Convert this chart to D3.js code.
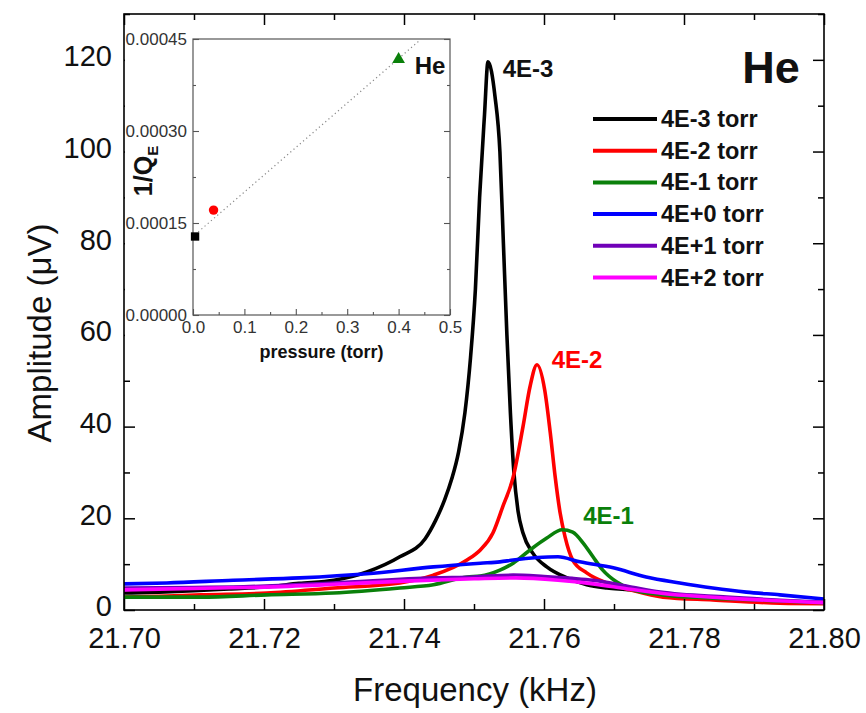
<!DOCTYPE html>
<html>
<head>
<meta charset="utf-8">
<script src="https://cdn.jsdelivr.net/npm/d3@7/dist/d3.min.js"></script>
<style>
  html, body { margin: 0; padding: 0; background: #fff; }
  svg { display: block; font-family: "Liberation Sans", Arial, sans-serif; }
</style>
</head>
<body>
<svg id="chart" width="866" height="713"></svg>
<script>
// Resonance amplitude vs. drive frequency for He at several pressures
const seriesNames = ["4E-3 torr", "4E-2 torr", "4E-1 torr", "4E+0 torr", "4E+1 torr", "4E+2 torr"];
const seriesColors = ["#000000", "#ff0000", "#0a800a", "#0000ff", "#7000b8", "#ff00ff"];

// [frequency (kHz), amplitude (µV)]
const amp4Em3 = [[21.700,3.7],[21.705,3.9],[21.710,4.2],[21.715,4.6],[21.720,5.0],[21.725,5.8],[21.730,6.5],[21.7347,8.3],[21.7394,11.6],[21.7430,15.5],[21.7445,19.5],[21.7458,24],[21.7468,28.5],[21.7478,34.5],[21.7487,43],[21.7495,55],[21.7502,70],[21.7508,90],[21.7515,108],[21.7520,119.6],[21.7530,112],[21.7537,100],[21.7542,80],[21.7547,60],[21.7552,43],[21.7557,30],[21.7563,21.5],[21.7570,16.8],[21.7584,12.4],[21.7604,9.4],[21.7633,7.0],[21.7661,5.5],[21.7690,4.8],[21.7723,4.4],[21.7766,3.3],[21.7841,2.6],[21.7937,1.7],[21.800,1.5]];
const amp4Em2 = [[21.700,2.8],[21.705,3.0],[21.711,3.3],[21.7204,3.7],[21.730,4.8],[21.7394,5.9],[21.7442,7.6],[21.7490,10.9],[21.7509,13.1],[21.7527,16.8],[21.7541,22.5],[21.7556,29],[21.7570,40],[21.7580,48.7],[21.7590,53.5],[21.7601,48],[21.7609,38.6],[21.7616,29],[21.7623,21.2],[21.7630,16],[21.7641,10.9],[21.7661,8.1],[21.7690,5.9],[21.7723,4.4],[21.7770,2.8],[21.7841,2.2],[21.7937,1.5],[21.800,1.4]];
const amp4Em1 = [[21.700,2.8],[21.7109,2.8],[21.7204,3.3],[21.7299,3.7],[21.7394,4.8],[21.7442,5.5],[21.7490,7.2],[21.7509,7.4],[21.7537,8.7],[21.7556,10.2],[21.7580,13.1],[21.7604,15.7],[21.7626,17.5],[21.7641,17],[21.7656,14.6],[21.7670,11.6],[21.7684,8.7],[21.7704,6.1],[21.7727,4.4],[21.7770,3.3],[21.7841,2.6],[21.7937,2.0],[21.800,1.6]];
const amp4Ep0 = [[21.700,5.7],[21.7061,5.9],[21.7156,6.5],[21.7251,7.0],[21.7347,7.9],[21.7442,9.4],[21.7509,10.2],[21.7537,10.5],[21.7556,10.9],[21.7620,11.6],[21.7651,10.5],[21.7699,9.2],[21.7746,7.2],[21.7794,5.9],[21.7841,4.8],[21.7889,3.9],[21.7937,3.3],[21.800,2.4]];
const amp4Ep1 = [[21.700,4.8],[21.710,4.9],[21.7156,5.0],[21.7299,5.9],[21.7442,7.0],[21.750,7.2],[21.7556,7.6],[21.760,7.3],[21.764,6.9],[21.767,6.5],[21.7719,5.2],[21.7766,3.9],[21.7861,2.8],[21.800,1.7]];
const amp4Ep2 = [[21.700,4.4],[21.710,4.7],[21.720,5.0],[21.730,5.6],[21.740,6.3],[21.750,6.8],[21.756,7.0],[21.762,6.5],[21.767,5.7],[21.772,4.6],[21.777,3.6],[21.786,2.6],[21.800,1.6]];
const allSeries = [amp4Em3, amp4Em2, amp4Em1, amp4Ep0, amp4Ep1, amp4Ep2];

// Peak annotations: [label, frequency, amplitude of the text baseline, colour index]
const peakLabels = [["4E-3", 21.7541, 116.3, 0], ["4E-2", 21.7611, 52.8, 1], ["4E-1", 21.7656, 18.8, 2]];

const xTicks = [21.70, 21.72, 21.74, 21.76, 21.78, 21.80];
const xMinorTicks = [21.71, 21.73, 21.75, 21.77, 21.79];
const yTicks = [0, 20, 40, 60, 80, 100, 120];
const yMinorTicks = [10, 30, 50, 70, 90, 110, 130];

// Inset: damping 1/Q_E vs pressure
const insetPressure = [0.004, 0.04, 0.4];
const insetInvQ = [0.000128, 0.000171, 0.000417];
const insetFit = [[0.004, 0.000131], [0.44, 0.000447]];
const insetXTicks = [0, 0.1, 0.2, 0.3, 0.4, 0.5];
const insetXMinor = [0.05, 0.15, 0.25, 0.35, 0.45];
const insetYTicks = [0, 0.00015, 0.0003, 0.00045];
const insetYMinor = [0.000075, 0.000225, 0.000375];

const svg = d3.select("#chart");

// ---------- main plot ----------
const L = 124, R = 824, T = 14, B = 610;
const x = d3.scaleLinear().domain([21.70, 21.80]).range([L, R]);
const y = d3.scaleLinear().domain([0, 130]).range([B, T]);

const line = d3.line()
  .x(d => x(d[0]))
  .y(d => y(d[1]))
  .curve(d3.curveMonotoneX);

const curves = svg.append("g");
allSeries.forEach((s, i) => {
  curves.append("path")
    .attr("d", line(s))
    .attr("fill", "none")
    .attr("stroke", seriesColors[i])
    .attr("stroke-width", 3.6)
    .attr("stroke-linejoin", "round");
});

function styleAxis(g, size) {
  g.select(".domain").remove();
  g.selectAll(".tick line").attr("stroke", "#000").attr("stroke-width", 1.5);
  g.selectAll("text").attr("fill", "#111").attr("font-size", size);
}

// bottom / top
svg.append("g").attr("transform", `translate(0,${B})`)
  .call(d3.axisBottom(x).tickValues(xTicks).tickSizeInner(-11).tickSizeOuter(0).tickPadding(17).tickFormat(d3.format(".2f")))
  .call(g => styleAxis(g, 29));
svg.append("g").attr("transform", `translate(0,${B})`)
  .call(d3.axisBottom(x).tickValues(xMinorTicks).tickSizeInner(-6).tickSizeOuter(0).tickFormat(""))
  .call(g => styleAxis(g, 0));
svg.append("g").attr("transform", `translate(0,${T})`)
  .call(d3.axisTop(x).tickValues(xTicks).tickSizeInner(-11).tickSizeOuter(0).tickFormat(""))
  .call(g => styleAxis(g, 0));
svg.append("g").attr("transform", `translate(0,${T})`)
  .call(d3.axisTop(x).tickValues(xMinorTicks).tickSizeInner(-6).tickSizeOuter(0).tickFormat(""))
  .call(g => styleAxis(g, 0));

// left / right
svg.append("g").attr("transform", `translate(${L},0)`)
  .call(d3.axisLeft(y).tickValues(yTicks).tickSizeInner(-11).tickSizeOuter(0).tickPadding(12))
  .call(g => styleAxis(g, 29))
  .call(g => g.selectAll("text").attr("dy", "0.2em"));
svg.append("g").attr("transform", `translate(${L},0)`)
  .call(d3.axisLeft(y).tickValues(yMinorTicks).tickSizeInner(-6).tickSizeOuter(0).tickFormat(""))
  .call(g => styleAxis(g, 0));
svg.append("g").attr("transform", `translate(${R},0)`)
  .call(d3.axisRight(y).tickValues(yTicks).tickSizeInner(-11).tickSizeOuter(0).tickFormat(""))
  .call(g => styleAxis(g, 0));
svg.append("g").attr("transform", `translate(${R},0)`)
  .call(d3.axisRight(y).tickValues(yMinorTicks).tickSizeInner(-6).tickSizeOuter(0).tickFormat(""))
  .call(g => styleAxis(g, 0));

// axis titles
svg.append("text")
  .attr("x", (L + R) / 2 + 1).attr("y", 701)
  .attr("text-anchor", "middle").attr("font-size", 33).attr("fill", "#111")
  .text("Frequency (kHz)");
svg.append("text")
  .attr("transform", `translate(51,${(T + B) / 2 + 21}) rotate(-90)`)
  .attr("text-anchor", "middle").attr("font-size", 33).attr("fill", "#111")
  .text("Amplitude (μV)");

// peak labels
peakLabels.forEach(([txt, f, a, ci]) => {
  svg.append("text")
    .attr("x", x(f)).attr("y", y(a))
    .attr("font-size", 24).attr("font-weight", "bold")
    .attr("fill", ci === 0 ? "#111" : seriesColors[ci])
    .text(txt);
});

// gas label
svg.append("text")
  .attr("x", 771).attr("y", 83).attr("text-anchor", "middle")
  .attr("font-size", 45).attr("font-weight", "bold").attr("fill", "#111")
  .text("He");

// legend
const legend = svg.append("g");
seriesNames.forEach((name, i) => {
  const ly = 119 + i * 31.7;
  legend.append("line")
    .attr("x1", 593).attr("x2", 657).attr("y1", ly).attr("y2", ly)
    .attr("stroke", seriesColors[i]).attr("stroke-width", 4);
  legend.append("text")
    .attr("x", 661).attr("y", ly + 8)
    .attr("font-size", 23.5).attr("font-weight", "bold").attr("fill", "#111")
    .text(name);
});

// frame
svg.append("rect")
  .attr("x", L).attr("y", T).attr("width", R - L).attr("height", B - T)
  .attr("fill", "none").attr("stroke", "#000").attr("stroke-width", 1.6);

// ---------- inset ----------
const iL = 193, iR = 450, iT = 39, iB = 315;
svg.append("rect")
  .attr("x", L + 1).attr("y", 27).attr("width", 340).attr("height", 340)
  .attr("fill", "#fff");

const ix = d3.scaleLinear().domain([0, 0.5]).range([iL, iR]);
const iy = d3.scaleLinear().domain([0, 0.00045]).range([iB, iT]);

function styleInset(g) {
  g.select(".domain").remove();
  g.selectAll(".tick line").attr("stroke", "#555").attr("stroke-width", 1.1);
  g.selectAll("text").attr("fill", "#333").attr("font-size", 17);
}

svg.append("g").attr("transform", `translate(0,${iB})`)
  .call(d3.axisBottom(ix).tickValues(insetXTicks).tickSizeInner(-6).tickSizeOuter(0).tickPadding(6).tickFormat(d3.format(".1f")))
  .call(styleInset);
svg.append("g").attr("transform", `translate(0,${iB})`)
  .call(d3.axisBottom(ix).tickValues(insetXMinor).tickSizeInner(-3).tickSizeOuter(0).tickFormat(""))
  .call(styleInset);
svg.append("g").attr("transform", `translate(${iL},0)`)
  .call(d3.axisLeft(iy).tickValues(insetYTicks).tickSizeInner(-6).tickSizeOuter(0).tickPadding(6).tickFormat(d3.format(".5f")))
  .call(styleInset);
svg.append("g").attr("transform", `translate(${iL},0)`)
  .call(d3.axisLeft(iy).tickValues(insetYMinor).tickSizeInner(-3).tickSizeOuter(0).tickFormat(""))
  .call(styleInset);
svg.append("g").attr("transform", `translate(${iR},0)`)
  .call(d3.axisRight(iy).tickValues(insetYTicks).tickSizeInner(-6).tickSizeOuter(0).tickFormat(""))
  .call(styleInset);
svg.append("g").attr("transform", `translate(${iR},0)`)
  .call(d3.axisRight(iy).tickValues(insetYMinor).tickSizeInner(-3).tickSizeOuter(0).tickFormat(""))
  .call(styleInset);

svg.append("rect")
  .attr("x", iL).attr("y", iT).attr("width", iR - iL).attr("height", iB - iT)
  .attr("fill", "none").attr("stroke", "#555").attr("stroke-width", 1.2);

// linear fit
svg.append("path")
  .attr("d", d3.line().x(d => ix(d[0])).y(d => iy(d[1]))(insetFit))
  .attr("fill", "none").attr("stroke", "#888").attr("stroke-width", 1.2)
  .attr("stroke-dasharray", "1.2,3");

// markers
const symbols = [d3.symbolSquare, d3.symbolCircle, d3.symbolTriangle];
insetPressure.forEach((p, i) => {
  svg.append("path")
    .attr("transform", `translate(${ix(p)},${iy(insetInvQ[i])})`)
    .attr("d", d3.symbol().type(symbols[i]).size(70)())
    .attr("fill", seriesColors[i]);
});

svg.append("text")
  .attr("x", 430).attr("y", 74).attr("text-anchor", "middle")
  .attr("font-size", 24).attr("font-weight", "bold").attr("fill", "#111")
  .text("He");

svg.append("text")
  .attr("x", (iL + iR) / 2).attr("y", 358).attr("text-anchor", "middle")
  .attr("font-size", 18).attr("font-weight", "bold").attr("fill", "#111")
  .text("pressure (torr)");

const qLabel = svg.append("text")
  .attr("transform", `translate(152,${(iT + iB) / 2 - 6}) rotate(-90)`)
  .attr("text-anchor", "middle")
  .attr("font-size", 25).attr("font-weight", "bold").attr("fill", "#111");
qLabel.append("tspan").text("1/Q");
qLabel.append("tspan").attr("font-size", 15).attr("dy", 6).text("E");
</script>
</body>
</html>
